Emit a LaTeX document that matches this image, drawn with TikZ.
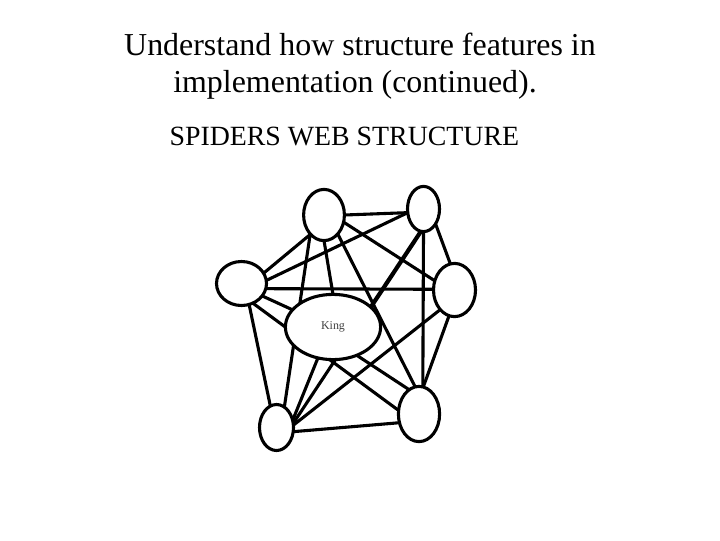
\documentclass[tikz,border=0pt]{standalone}
\usepackage{fontspec}
\setmainfont{Liberation Serif}
\usetikzlibrary{shapes.geometric}
\pgfdeclarelayer{background}
\pgfsetlayers{background,main}

\begin{document}
\begin{tikzpicture}[x=0.025cm,y=-0.025cm,line width=2.2pt,web node/.style={ellipse,draw,fill=white,inner sep=0pt,outer sep=0pt}]
\tikzstyle{web edge} = [draw,line width=2.2pt,-]

\useasboundingbox (0,0) rectangle (720,540);

% Title
\node[anchor=base] (title1) at (360,55) {\fontsize{22.7}{27}\selectfont Understand how structure features in};
\node[anchor=base] (title2) at (355,92) {\fontsize{22.7}{27}\selectfont implementation (continued).};
\node[anchor=base west,inner sep=0pt] (subtitle) at (168,145) {\fontsize{19.8}{24}\selectfont SPIDERS WEB STRUCTURE};

% Spiders web
\node[web node,minimum width=1.02cm,minimum height=1.28cm] (topleft) at (324,215) {};
\node[web node,minimum width=0.8cm,minimum height=1.13cm] (topright) at (423.5,209) {};
\node[web node,minimum width=1.25cm,minimum height=1.1cm] (left) at (241.5,283.5) {};
\node[web node,minimum width=1.05cm,minimum height=1.33cm] (right) at (454.5,290) {};
\node[web node,minimum width=2.38cm,minimum height=1.63cm] (king) at (333,327) {\fontsize{8.5}{10}\selectfont\color{black!75}King};
\node[web node,minimum width=0.85cm,minimum height=1.15cm] (botleft) at (276.5,427.5) {};
\node[web node,minimum width=1.03cm,minimum height=1.38cm] (botright) at (419,414) {};

\begin{pgfonlayer}{background}
\path[web edge] (topleft.east) -- (topright.193);
\path[web edge] (topleft.235) -- (left.25);
\path[web edge] (topleft.340) -- (right.155);
\path[web edge] (topleft.south) -- (king.north);
\path[web edge] (topleft.234) -- (botleft.69);
\path[web edge] (topleft.306) -- (botright.98);

\path[web edge] (topright.193) -- (left.7);
\path[web edge] (topright.309) -- (right.99);
\path[web edge] (topright.265) -- (king.27);
\path[web edge] (topright.262) -- (botleft.14);
\path[web edge] (topright.south) -- (botright.82);

\path[web edge] (left.348) -- (right.178);
\path[web edge] (left.329) -- (king.157);
\path[web edge] (left.290) -- (botleft.106);
\path[web edge] (left.300) -- (botright.170);

\path[web edge] (right.234) -- (botleft.8);
\path[web edge] (right.258) -- (botright.81);

\path[web edge] (king.244) -- (botleft.24);
\path[web edge] (king.310) -- (botright.112);

\path[web edge] (botleft.346) -- (botright.204);
\end{pgfonlayer}

\end{tikzpicture}
\end{document}
